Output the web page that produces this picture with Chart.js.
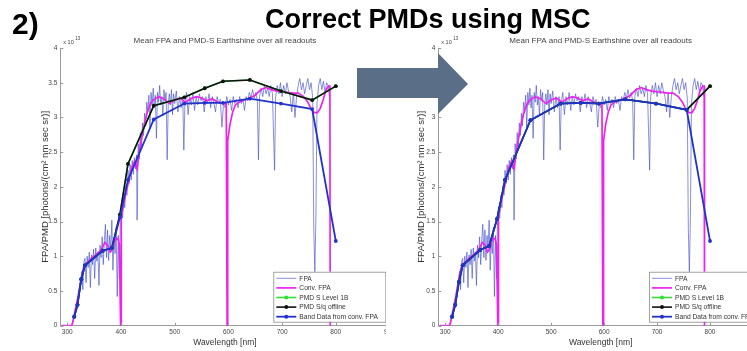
<!DOCTYPE html>
<html>
<head>
<meta charset="utf-8">
<script src="https://cdn.jsdelivr.net/npm/chart.js@4.4.1/dist/chart.umd.min.js"></script>
<style>
html, body { margin: 0; padding: 0; background: #fff; overflow: hidden; }
#wrap { position: relative; width: 747px; height: 351px; overflow: hidden; font-family: "Liberation Sans", Arial, sans-serif; }
canvas { position: absolute; top: 0; }
#cLeft { left: 0; z-index: 1; }
#cRight { left: 386px; z-index: 2; background: #fff; }
#num { position: absolute; left: 12px; top: 9px; font-size: 30px; line-height: 30px; font-weight: bold; z-index: 3; }
#head { position: absolute; left: 265px; top: 6px; font-size: 27px; line-height: 27px; font-weight: bold; white-space: nowrap; z-index: 3; }
#arrow { position: absolute; left: 357px; top: 53px; width: 112px; height: 61px; background: #5a6e87; z-index: 4;
  clip-path: polygon(0 15px, 81px 15px, 81px 0, 111px 31px, 81px 61px, 81px 45px, 0 45px); }
</style>
</head>
<body>
<div id="wrap">
  <canvas id="cLeft" width="400" height="351"></canvas>
  <canvas id="cRight" width="400" height="351"></canvas>
  <div id="num">2)</div>
  <div id="head">Correct PMDs using MSC</div>
  <div id="arrow"></div>
</div>
<script>
// tick labels
const XTICKS = [300, 400, 500, 600, 700, 800, 900];
const YTICKS = [0, 0.5, 1, 1.5, 2, 2.5, 3, 3.5, 4];

// FPA spectrum, [wavelength nm, radiance x1e13]
const fpaSpectrum = [
  [309,0.03],[311,0.08],[313,0.16],[315,0.22],[317,0.28],[319,0.33],[321,0.45],[323,0.55],[325,0.64],[327,0.78],
  [329,0.52],[331,0.92],[333,0.97],[335,0.62],[337,1.0],[339,0.84],[341,1.06],[343,0.55],[345,1.02],[347,0.88],
  [349,1.1],[351,0.68],[353,1.12],[355,0.93],[357,1.06],[359,0.58],[361,1.16],[363,0.98],[365,1.28],[367,0.88],
  [369,1.22],[371,1.46],[373,0.98],[375,1.38],[377,0.94],[379,1.3],[381,1.1],[383,1.52],[385,0.8],[387,1.26],
  [389,1.04],[391,1.42],[393,0.42],[395,1.3],[397,0.68],[399,1.62],[401,1.72],[403,1.55],[405,1.88],[407,1.7],
  [409,2.02],[411,1.88],[413,2.24],[415,2.05],[417,2.32],[419,2.1],[421,2.38],[423,2.18],[425,2.42],[427,2.26],
  [429,2.46],[430,1.52],[432,2.62],[434,2.4],[436,2.78],[438,2.58],[440,2.92],[442,2.74],[444,3.06],[446,2.88],
  [448,3.22],[450,3.08],[452,3.32],[454,2.84],[456,3.36],[458,3.18],[460,3.42],[462,3.14],[464,3.32],[466,2.7],
  [468,3.36],[470,3.22],[472,3.46],[474,3.18],[476,3.3],[478,3.02],[480,3.4],[482,3.24],[484,3.36],[486,2.39],
  [488,3.2],[490,3.34],[492,3.18],[494,3.4],[496,3.04],[498,3.34],[500,3.2],[503,3.38],[506,3.08],[509,3.3],
  [512,3.14],[515,3.3],[517,2.53],[519,3.2],[522,3.36],[525,3.04],[528,3.3],[531,3.18],[534,3.36],[537,3.1],
  [540,3.3],[543,3.18],[546,3.34],[549,3.24],[552,3.3],[555,3.08],[558,3.3],[561,3.2],[564,3.34],[567,3.14],
  [570,3.3],[573,3.2],[576,3.08],[579,3.3],[582,3.2],[585,3.26],[588,2.86],[591,3.2],[594,3.14],[597,3.3],
  [600,3.18],[603,3.26],[606,3.1],[609,3.3],[612,3.2],[615,3.26],[618,3.14],[621,3.3],[624,3.2],[627,3.26],
  [630,3.1],[633,3.3],[636,3.24],[639,3.36],[642,3.28],[645,3.4],[648,3.28],[651,3.36],[654,3.24],[656,2.39],
  [658,3.3],[661,3.42],[664,3.3],[667,3.46],[670,3.34],[673,3.42],[676,3.3],[679,3.46],[682,3.34],[686,2.24],
  [688,3.3],[691,3.46],[694,3.34],[697,3.5],[700,3.3],[703,3.46],[706,3.34],[709,3.5],[712,3.38],[715,3.3],
  [718,3.08],[721,3.36],[724,3.0],[727,3.3],[730,3.46],[733,3.56],[736,3.4],[739,3.5],[742,3.34],[745,3.46],
  [748,3.56],[751,3.4],[754,3.5],[757,3.28],[759,1.4],[761,0.75],[763,1.6],[765,3.2],[768,3.46],[771,3.56],
  [774,3.4],[777,3.52],[780,3.36],[783,3.5],[786,3.46],[788,3.3]
];

// convolved FPA
const convSpectrum = [
  [290,0],[300,0],[308,0],[310,0.04],[312,0.12],[316,0.27],[320,0.42],[325,0.64],[330,0.83],[335,0.9],
  [340,0.93],[345,0.97],[350,1.0],[355,1.03],[360,1.07],[365,1.12],[370,1.2],[375,1.16],[380,1.06],[384,1.1],
  [388,1.22],[392,1.26],[395,1.24],[397,1.16],[399.3,0],[400.2,0],[400.6,1.58],[405,1.76],[410,1.94],[415,2.1],
  [420,2.28],[425,2.36],[430,2.26],[435,2.55],[440,2.76],[445,2.96],[450,3.1],[455,3.2],[460,3.25],[470,3.3],
  [480,3.27],[490,3.2],[500,3.25],[510,3.28],[520,3.22],[530,3.27],[540,3.3],[550,3.28],[560,3.24],[570,3.27],
  [580,3.22],[590,3.2],[596,3.2],[597.6,0],[598.4,0],[599,2.66],[603,2.9],[608,3.08],[613,3.18],[620,3.22],
  [630,3.25],[640,3.28],[650,3.32],[660,3.4],[670,3.43],[680,3.4],[690,3.38],[700,3.37],[710,3.36],[720,3.35],
  [730,3.35],[740,3.3],[748,3.22],[754,3.12],[760,3.07],[766,3.07],[771,3.13],[776,3.24],[781,3.38],[786,3.45],
  [789,3.45],[789.6,0]
];

// PMD band centres and values
const bandWl       = [313, 319, 326, 333, 366, 383, 398, 413, 461, 518, 556, 590, 640, 698, 756, 800];
const l1bLeft      = [0.13, 0.30, 0.67, 0.87, 1.08, 1.12, 1.60, 2.33, 3.17, 3.29, 3.42, 3.52, 3.54, 3.38, 3.25, 3.45];
const offlineLeft  = [0.13, 0.30, 0.67, 0.87, 1.08, 1.12, 1.60, 2.33, 3.17, 3.29, 3.42, 3.52, 3.54, 3.38, 3.25, 3.45];
const bandLeft     = [0.13, 0.30, 0.67, 0.87, 1.08, 1.12, 1.56, 2.10, 2.97, 3.20, 3.21, 3.21, 3.27, 3.20, 3.12, 1.22];
const l1bRight     = [0.13, 0.30, 0.63, 0.87, 1.09, 1.15, 1.54, 2.10, 2.96, 3.20, 3.21, 3.20, 3.26, 3.20, 3.11, 3.45];
const offlineRight = [0.13, 0.30, 0.63, 0.87, 1.09, 1.15, 1.54, 2.10, 2.96, 3.20, 3.21, 3.20, 3.26, 3.20, 3.11, 3.45];
const bandRight    = [0.13, 0.30, 0.63, 0.87, 1.09, 1.15, 1.54, 2.10, 2.96, 3.20, 3.21, 3.20, 3.26, 3.20, 3.11, 1.22];

const FONT = "'Liberation Sans', Arial, sans-serif";

const pairs = arr => arr.map(p => ({x: p[0], y: p[1]}));
const bands = vals => bandWl.map((x, i) => ({x: x, y: vals[i]}));

// matlab style bits: inward ticks, exponent, boxed legend
const matlabBits = {
  id: 'matlabBits',
  afterDraw(chart, args, opts) {
    const ctx = chart.ctx, a = chart.chartArea;
    ctx.save();
    ctx.strokeStyle = '#9a9a9a';
    ctx.lineWidth = 1;
    chart.scales.y.ticks.forEach(t => {
      const py = Math.round(chart.scales.y.getPixelForValue(t.value)) + 0.5;
      ctx.beginPath(); ctx.moveTo(a.left, py); ctx.lineTo(a.left + 3, py); ctx.stroke();
    });
    chart.scales.x.ticks.forEach(t => {
      const px = Math.round(chart.scales.x.getPixelForValue(t.value)) + 0.5;
      ctx.beginPath(); ctx.moveTo(px, a.bottom); ctx.lineTo(px, a.bottom - 3); ctx.stroke();
    });

    ctx.fillStyle = '#444';
    ctx.textBaseline = 'alphabetic';
    ctx.font = '5.5px ' + FONT;
    ctx.fillText('x 10', a.left + 3, a.top - 4);
    ctx.font = '4.5px ' + FONT;
    ctx.fillText('13', a.left + 15, a.top - 8);

    // legend box
    const bw = 112, bh = 50;
    const bx = a.right - opts.legendOffset, by = a.bottom - 54;
    ctx.fillStyle = '#fff';
    ctx.fillRect(bx, by, bw, bh);
    ctx.strokeStyle = '#8a8a8a';
    ctx.lineWidth = 0.8;
    ctx.strokeRect(bx + 0.5, by + 0.5, bw, bh);
    ctx.font = '6.7px ' + FONT;
    ctx.textBaseline = 'middle';
    chart.data.datasets.forEach((d, i) => {
      const y = by + 6.6 + i * 9.6;
      ctx.strokeStyle = d.borderColor;
      ctx.lineWidth = d.borderWidth;
      ctx.beginPath(); ctx.moveTo(bx + 3, y); ctx.lineTo(bx + 23, y); ctx.stroke();
      if (d.pointRadius > 0) {
        ctx.fillStyle = d.borderColor;
        ctx.beginPath(); ctx.arc(bx + 13, y, 2, 0, Math.PI * 2); ctx.fill();
      }
      ctx.fillStyle = '#333';
      ctx.fillText(d.label, bx + 26, y + 0.5);
    });
    ctx.restore();
  }
};

function makeChart(id, l1b, offline, band, geo) {
  return new Chart(document.getElementById(id), {
    type: 'line',
    data: {
      datasets: [
        { label: 'FPA', data: pairs(fpaSpectrum), borderColor: 'rgba(70,80,200,0.8)', borderWidth: 0.8, pointRadius: 0, order: 5 },
        { label: 'Conv. FPA', data: pairs(convSpectrum), borderColor: '#ee22ee', borderWidth: 1.7, pointRadius: 0, order: 4 },
        { label: 'PMD S Level 1B', data: bands(l1b), borderColor: '#33dd33', backgroundColor: '#33dd33', borderWidth: 1.6, pointRadius: 1.9, pointBorderWidth: 0, order: 3 },
        { label: 'PMD S/q offline', data: bands(offline), borderColor: '#111111', backgroundColor: '#111111', borderWidth: 1.6, pointRadius: 1.9, pointBorderWidth: 0, order: 2 },
        { label: 'Band Data from conv. FPA', data: bands(band), borderColor: '#2233cc', backgroundColor: '#2233cc', borderWidth: 1.8, pointRadius: 1.9, pointBorderWidth: 0, order: 1 }
      ]
    },
    options: {
      responsive: false,
      animation: false,
      events: [],
      layout: { padding: { left: 0, right: geo.padRight, top: 0, bottom: 0 } },
      plugins: {
        legend: { display: false },
        tooltip: { enabled: false },
        title: {
          display: true,
          fullSize: false,
          text: 'Mean FPA and PMD-S Earthshine over all readouts',
          color: '#444',
          font: { family: FONT, size: 8, weight: 'normal' },
          padding: { top: 36.2, bottom: 2.2 }
        },
        matlabBits: { legendOffset: geo.legendOffset }
      },
      scales: {
        x: {
          type: 'linear', min: 287, max: 900,
          afterBuildTicks: s => { s.ticks = XTICKS.map(v => ({value: v})); },
          afterFit: s => { s.height = 25.3; },
          grid: { display: true, drawOnChartArea: false, drawTicks: false },
          border: { color: '#9a9a9a', width: 1 },
          ticks: { color: '#444', font: { family: FONT, size: 6.5 }, padding: 3, maxRotation: 0, autoSkip: false },
          title: { display: true, text: 'Wavelength [nm]', color: '#333', font: { family: FONT, size: 8.5 }, padding: { top: 0, bottom: 3 } }
        },
        y: {
          type: 'linear', min: 0, max: 4,
          afterBuildTicks: s => { s.ticks = YTICKS.map(v => ({value: v})); },
          afterFit: s => { s.width = geo.yWidth; },
          grid: { display: true, drawOnChartArea: false, drawTicks: false },
          border: { color: '#9a9a9a', width: 1 },
          ticks: { color: '#444', font: { family: FONT, size: 6.5 }, padding: 3, callback: v => String(v) },
          title: { display: true, text: 'FPA/PMD [photons/(cm² nm sec sr)]', color: '#333', font: { family: FONT, size: 9.5 }, padding: { top: geo.titleLeft, bottom: 0 } }
        }
      }
    },
    plugins: [matlabBits]
  });
}

makeChart('cLeft', l1bLeft, offlineLeft, bandLeft, { yWidth: 60.3, padRight: 10.5, legendOffset: 116.2, titleLeft: 39.3 });
makeChart('cRight', l1bRight, offlineRight, bandRight, { yWidth: 52.3, padRight: 23, legendOffset: 114, titleLeft: 30 });
</script>
</body>
</html>
